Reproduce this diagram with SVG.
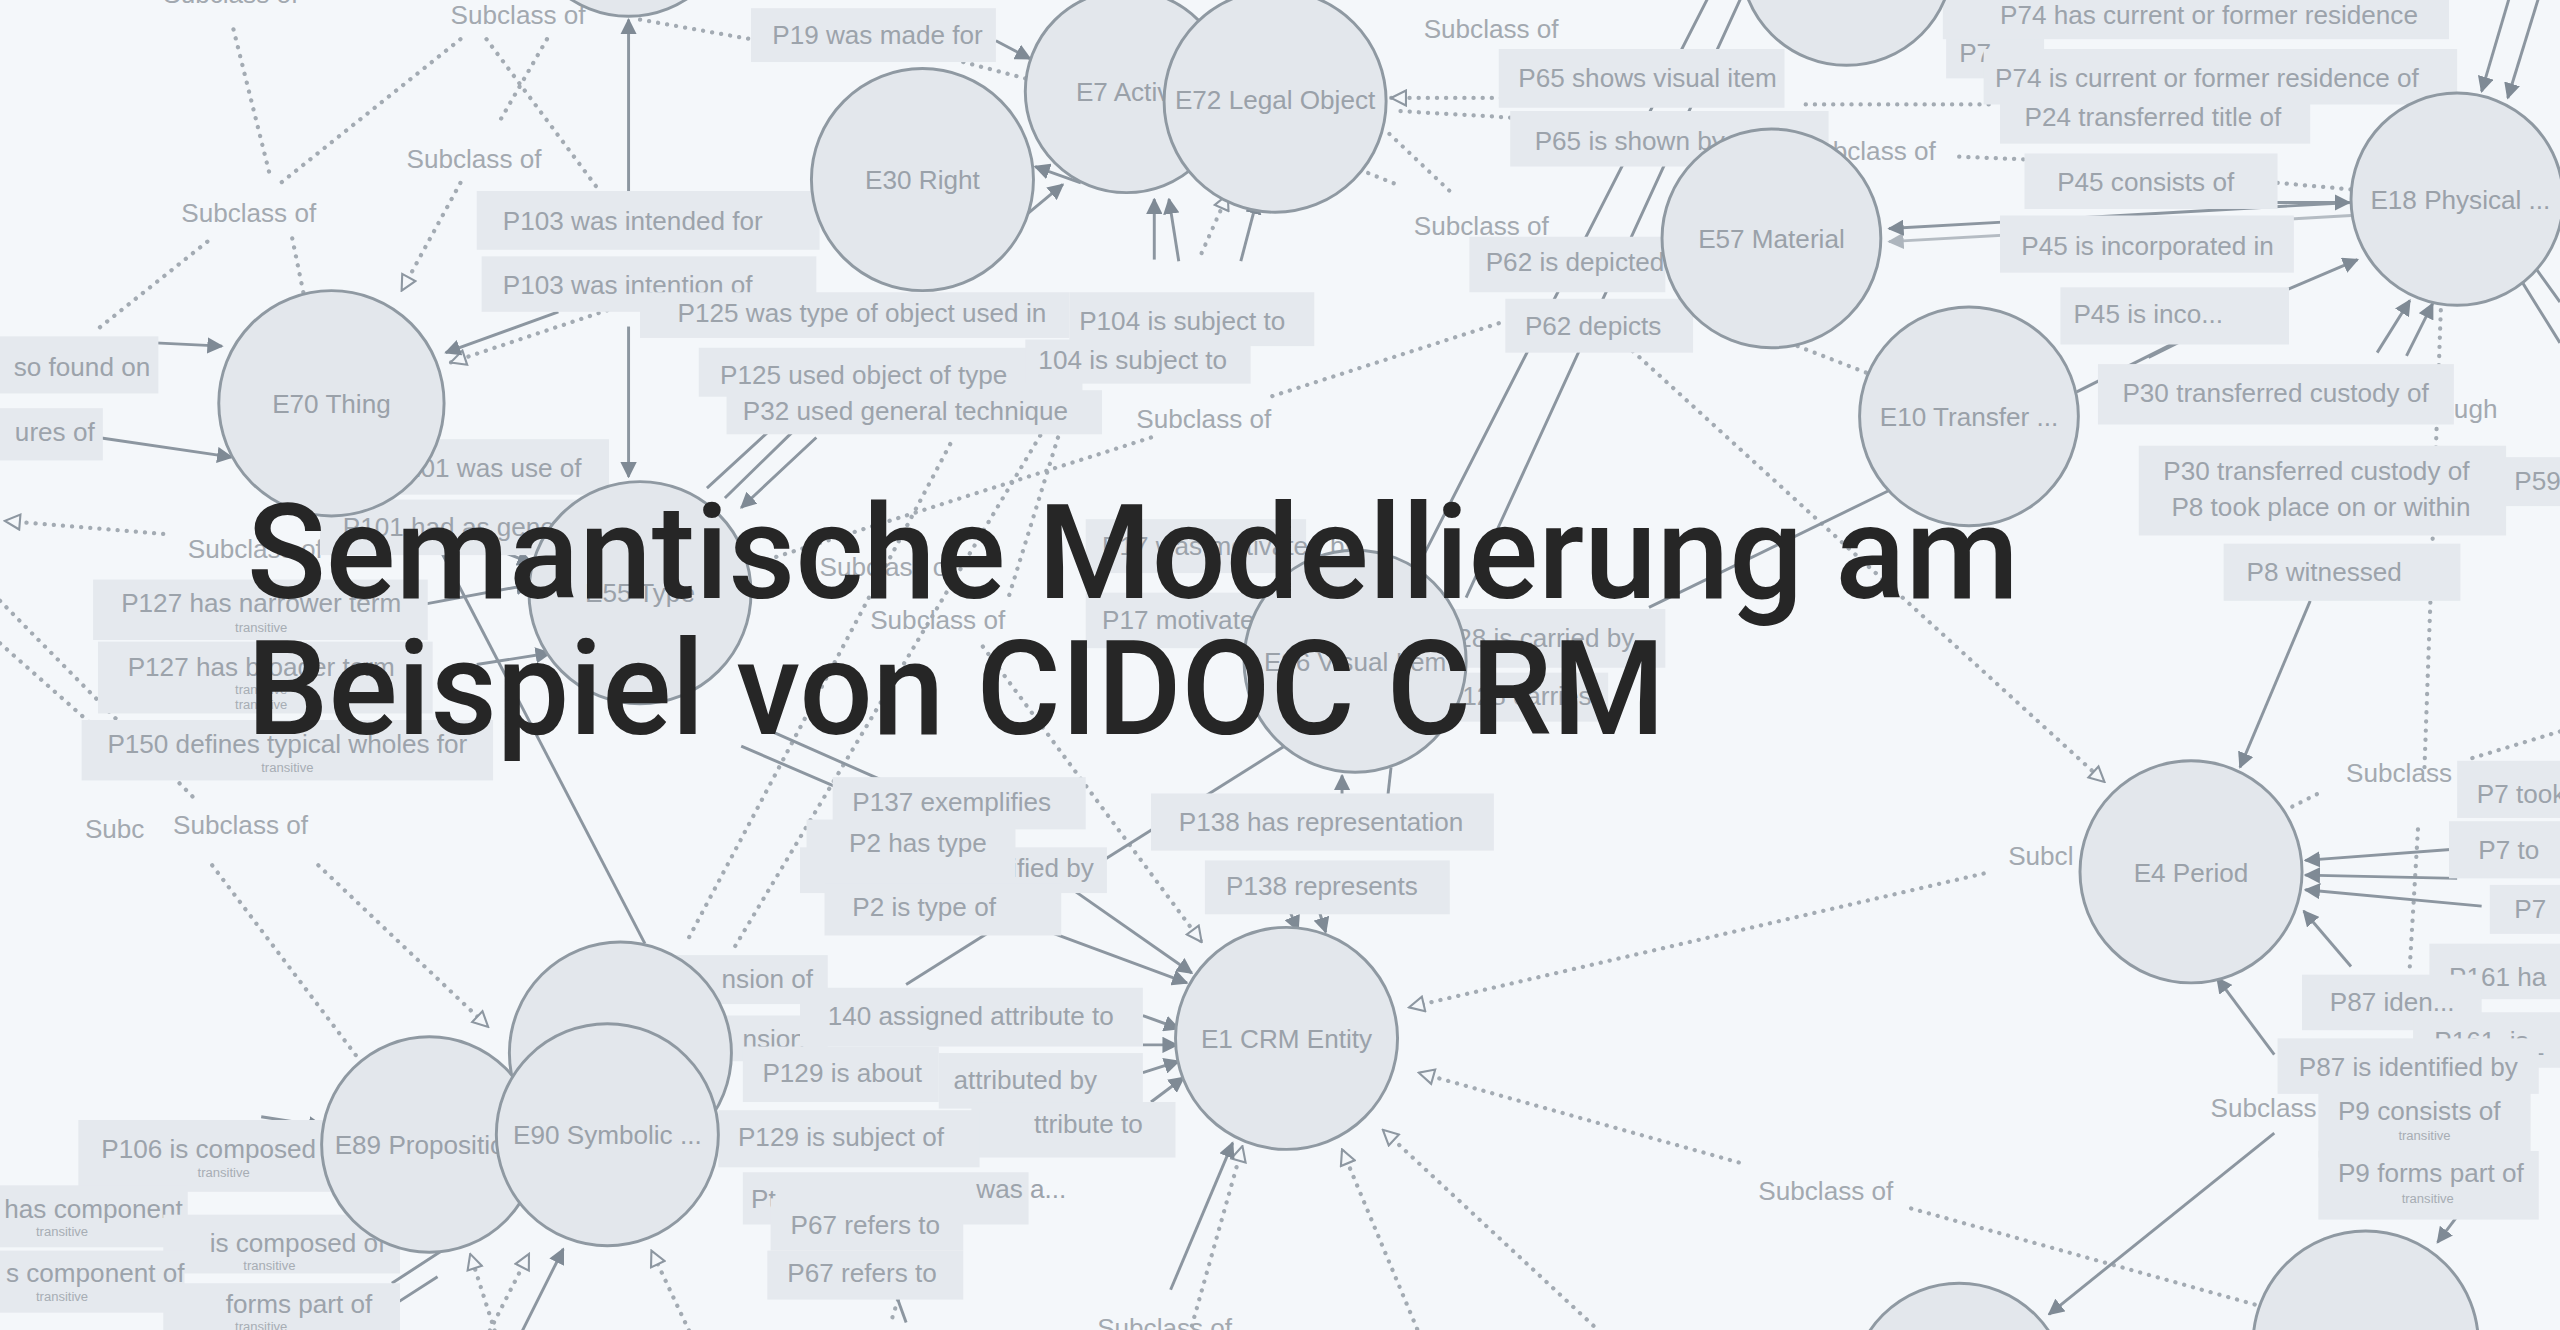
<svg xmlns="http://www.w3.org/2000/svg" width="2560" height="1330" viewBox="0 0 2560 1330">
<defs>
<style>
.lb{fill:#e5e9ee}
.lt{font-family:"Liberation Sans",Arial,sans-serif;font-size:16px;fill:#9ca3ab}
.sc{font-family:"Liberation Sans",Arial,sans-serif;font-size:16px;fill:#a3a9b0}
.tr{font-family:"Liberation Sans",Arial,sans-serif;font-size:8px;fill:#a7adb4;text-anchor:middle}
.nd{fill:#e3e7ec;stroke:#8f99a2;stroke-width:1.8}
.nt{font-family:"Liberation Sans",Arial,sans-serif;font-size:16px;fill:#9aa1a9;text-anchor:middle}
.s{fill:none;stroke:#8c96a0;stroke-width:1.8}
.sa{fill:none;stroke:#8c96a0;stroke-width:1.8;marker-end:url(#af)}
.d{fill:none;stroke:#a3abb3;stroke-width:2.6;stroke-linecap:round;stroke-dasharray:0.1 5.5}
.dh{fill:none;stroke:#a3abb3;stroke-width:2.6;stroke-linecap:round;stroke-dasharray:0.1 5.5;marker-end:url(#ah)}
.title{font-family:Roboto,"DejaVu Sans",sans-serif;font-weight:500;font-size:132px;fill:#262626}
</style>
<marker id="af" viewBox="0 0 10 10" refX="9" refY="5" markerWidth="10" markerHeight="10" markerUnits="userSpaceOnUse" orient="auto"><path d="M0,0 L10,5 L0,10 z" fill="#7f8a95"/></marker>
<marker id="ah" viewBox="0 0 12 12" refX="11" refY="6" markerWidth="11" markerHeight="11" markerUnits="userSpaceOnUse" orient="auto"><path d="M1,1 L11,6 L1,11 z" fill="#f4f7fa" stroke="#8d97a1" stroke-width="1.4" stroke-dasharray="none"/></marker>
</defs>
<rect width="2560" height="1330" fill="#f4f7fa"/>
<g id="graph" transform="scale(1.63265)">
<g id="connectors">
<path class="d" d="M143,18 L166,110 M179,146 L186,180"/>
<path class="d" d="M282,24 L172,112 M127,148 L58,203"/>
<path class="d" d="M298,24 L368,118"/>
<path class="d" d="M335,24 L305,76"/>
<path class="dh" d="M282,112 L246,178"/>
<path class="dh" d="M372,190 L276,222"/>
<path class="d" d="M392,12 L460,24"/>
<path class="d" d="M590,38 L628,48"/>
<path class="dh" d="M925,60 L852,60"/>
<path class="d" d="M925,72 L856,68"/>
<path class="d" d="M851,82 L889,118 M838,106 L858,114"/>
<path class="d" d="M918,198 L775,244 M705,268 L460,346"/>
<path class="dh" d="M1000,215 L1289,479"/>
<path class="d" d="M1101,212 L1145,229"/>
<path class="d" d="M1106,64 L1220,64"/>
<path class="d" d="M1200,96 L1250,98"/>
<path class="d" d="M1395,112 L1440,116"/>
<path class="d" d="M1495,190 L1485,470 M1481,508 L1476,592"/>
<path class="d" d="M1568,448 L1512,465"/>
<path class="d" d="M1404,494 L1420,486"/>
<path class="dh" d="M1215,535 L863,617"/>
<path class="d" d="M1381,799 L1170,740"/>
<path class="dh" d="M1065,712 L869,657"/>
<path class="dh" d="M976,812 L847,692"/>
<path class="dh" d="M868,814 L822,704"/>
<path class="dh" d="M730,812 L761,702"/>
<path class="dh" d="M602,396 L736,577"/>
<path class="d" d="M582,272 L420,578"/>
<path class="d" d="M640,262 L450,580"/>
<path class="d" d="M648,268 L618,365"/>
<path class="dh" d="M100,327 L3,319"/>
<path class="d" d="M0,368 L120,490 M0,394 L95,478"/>
<path class="d" d="M130,530 L220,649"/>
<path class="dh" d="M195,530 L299,629"/>
<path class="dh" d="M303,815 L288,768"/>
<path class="dh" d="M300,815 L324,768"/>
<path class="dh" d="M422,815 L399,766"/>
<path class="dh" d="M736,155 L752,119"/>
<path class="d" d="M555,780 L545,812"/>
<path class="sa" d="M385,118 L385,12"/>
<path class="sa" d="M385,200 L385,292"/>
<path class="sa" d="M95,210 L136,212"/>
<path class="sa" d="M60,268 L142,280"/>
<path class="sa" d="M342,191 L273,216"/>
<path class="sa" d="M470,265 L433,299 M485,265 L444,305 M500,268 L454,311"/>
<path class="sa" d="M260,370 L325,358"/>
<path class="sa" d="M292,407 L337,400"/>
<path class="sa" d="M300,335 L326,345"/>
<path class="s" d="M262,322 L395,578"/>
<path class="s" d="M454,457 L512,482 M468,446 L545,480"/>
<path class="sa" d="M627,565 L727,602"/>
<path class="sa" d="M650,540 L730,596"/>
<path class="s" d="M555,603 L790,455"/>
<path class="sa" d="M700,622 L722,630"/>
<path class="sa" d="M700,640 L721,640"/>
<path class="sa" d="M700,657 L722,650"/>
<path class="sa" d="M705,675 L725,660"/>
<path class="sa" d="M717,790 L755,700"/>
<path class="sa" d="M790,558 L795,570"/>
<path class="sa" d="M808,558 L812,571"/>
<path class="sa" d="M822,490 L822,475"/>
<path class="s" d="M852,470 L850,488"/>
<path class="s" d="M1048,-5 L872,340 M1068,-5 L898,366"/>
<path class="s" d="M1158,300 L1010,372"/>
<path class="sa" d="M1440,124 L1157,140"/>
<path class="sa" d="M1440,132 L1157,148" opacity="0.6"/>
<path class="sa" d="M1415,368 L1372,470"/>
<path class="sa" d="M1505,520 L1412,527"/>
<path class="sa" d="M1505,538 L1412,536"/>
<path class="sa" d="M1520,555 L1412,545"/>
<path class="sa" d="M1440,592 L1411,558"/>
<path class="sa" d="M1393,646 L1358,599"/>
<path class="sa" d="M1393,694 L1255,805"/>
<path class="sa" d="M1508,741 L1493,761"/>
<path class="s" d="M1555,650 L1530,700"/>
<path class="sa" d="M1538,-5 L1520,56"/>
<path class="sa" d="M1556,-5 L1536,60"/>
<path class="sa" d="M1388,124 L1439,124"/>
<path class="s" d="M1272,240 L1376,188"/>
<path class="sa" d="M1376,188 L1444,159"/>
<path class="sa" d="M1456,216 L1476,184"/>
<path class="sa" d="M1474,218 L1490,186"/>
<path class="s" d="M1540,165 L1568,210 M1550,160 L1568,185"/>
<path class="sa" d="M707,159 L707,122"/>
<path class="sa" d="M722,160 L716,122"/>
<path class="sa" d="M760,160 L770,122"/>
<path class="sa" d="M610,25 L631,36"/>
<path class="sa" d="M662,112 L634,102"/>
<path class="sa" d="M628,132 L651,113"/>
<path class="s" d="M1316,219 L1336,209"/>
<path class="s" d="M543,777 L555,810"/>
<path class="sa" d="M160,684 L198,690"/>
<path class="sa" d="M320,815 L345,765"/>
<path class="s" d="M240,786 L280,760 M240,800 L268,782"/>
</g>
<g id="labels">
<text class="sc" x="100" y="2">Subclass of</text>
<text class="sc" x="276" y="15">Subclass of</text>
<text class="sc" x="249" y="103">Subclass of</text>
<text class="sc" x="111" y="136">Subclass of</text>
<text class="sc" x="696" y="262">Subclass of</text>
<text class="sc" x="872" y="23">Subclass of</text>
<text class="sc" x="1103" y="98">Subclass of</text>
<text class="sc" x="866" y="144">Subclass of</text>
<text class="sc" x="115" y="342">Subclass of</text>
<text class="sc" x="502" y="353">Subclass of</text>
<text class="sc" x="533" y="385">Subclass of</text>
<text class="sc" x="52" y="513">Subc</text>
<text class="sc" x="106" y="511">Subclass of</text>
<text class="sc" x="1437" y="479">Subclass</text>
<text class="sc" x="1230" y="530">Subcl</text>
<text class="sc" x="1354" y="684">Subclass</text>
<text class="sc" x="1077" y="735">Subclass of</text>
<text class="sc" x="672" y="819">Subclass of</text>
<g id="l-p19"><rect class="lb" x="460" y="5" width="150" height="33"/><text class="lt" x="473" y="27">P19 was made for</text></g>
<g id="l-p103a"><rect class="lb" x="292" y="117" width="210" height="36"/><text class="lt" x="308" y="141">P103 was intended for</text></g>
<g id="l-p103b"><rect class="lb" x="295" y="157" width="205" height="34"/><text class="lt" x="308" y="180">P103 was intention of</text></g>
<g id="l-p125a"><rect class="lb" x="392" y="179" width="263" height="28"/><text class="lt" x="415" y="197">P125 was type of object used in</text></g>
<g id="l-p125b"><rect class="lb" x="428" y="213" width="235" height="30"/><text class="lt" x="441" y="235">P125 used object of type</text></g>
<g id="l-p32"><rect class="lb" x="445" y="239" width="230" height="27"/><text class="lt" x="455" y="257">P32 used general technique</text></g>
<g id="l-p104a"><rect class="lb" x="655" y="179" width="150" height="33"/><text class="lt" x="661" y="202">P104 is subject to</text></g>
<g id="l-p104b"><rect class="lb" x="628" y="208" width="138" height="27"/><text class="lt" x="636" y="226">104 is subject to</text></g>
<g id="l-p65a"><rect class="lb" x="918" y="30" width="175" height="36"/><text class="lt" x="930" y="53">P65 shows visual item</text></g>
<g id="l-p65b"><rect class="lb" x="925" y="68" width="195" height="34"/><text class="lt" x="940" y="92">P65 is shown by</text></g>
<g id="l-p62a"><rect class="lb" x="900" y="145" width="120" height="34"/><text class="lt" x="910" y="166">P62 is depicted by</text></g>
<g id="l-p62b"><rect class="lb" x="922" y="183" width="115" height="33"/><text class="lt" x="934" y="205">P62 depicts</text></g>
<g id="l-p7x"><rect class="lb" x="1192" y="18" width="60" height="30"/><text class="lt" x="1200" y="38">P7</text></g>
<g id="l-p74a"><rect class="lb" x="1190" y="-8" width="310" height="32"/><text class="lt" x="1225" y="15">P74 has current or former residence</text></g>
<g id="l-p74b"><rect class="lb" x="1215" y="30" width="290" height="34"/><text class="lt" x="1222" y="53">P74 is current or former residence of</text></g>
<g id="l-p24"><rect class="lb" x="1225" y="58" width="190" height="30"/><text class="lt" x="1240" y="77">P24 transferred title of</text></g>
<g id="l-p45a"><rect class="lb" x="1240" y="94" width="155" height="34"/><text class="lt" x="1260" y="117">P45 consists of</text></g>
<g id="l-p45b"><rect class="lb" x="1225" y="132" width="180" height="35"/><text class="lt" x="1238" y="156">P45 is incorporated in</text></g>
<g id="l-p45c"><rect class="lb" x="1262" y="176" width="140" height="35"/><text class="lt" x="1270" y="198">P45 is inco...</text></g>
<text class="sc" x="1503" y="256">ugh</text>
<g id="l-p30a"><rect class="lb" x="1285" y="223" width="218" height="37"/><text class="lt" x="1300" y="246">P30 transferred custody of</text></g>
<g id="l-p59"><rect class="lb" x="1530" y="280" width="40" height="30"/><text class="lt" x="1540" y="300">P59</text></g>
<g id="l-p30b"><rect class="lb" x="1310" y="273" width="225" height="55"/><text class="lt" x="1325" y="294">P30 transferred custody of</text><text class="lt" x="1330" y="316">P8 took place on or within</text></g>
<g id="l-p8"><rect class="lb" x="1362" y="333" width="145" height="35"/><text class="lt" x="1376" y="356">P8 witnessed</text></g>
<g id="l-p7a"><rect class="lb" x="1505" y="466" width="70" height="35"/><text class="lt" x="1517" y="492">P7 took</text></g>
<g id="l-p7b"><rect class="lb" x="1500" y="503" width="70" height="35"/><text class="lt" x="1518" y="526">P7 to</text></g>
<g id="l-p7c"><rect class="lb" x="1525" y="542" width="45" height="30"/><text class="lt" x="1540" y="562">P7</text></g>
<g id="l-p161a"><rect class="lb" x="1488" y="578" width="82" height="34"/><text class="lt" x="1500" y="604">P161 ha</text></g>
<g id="l-p87a"><rect class="lb" x="1410" y="597" width="110" height="34"/><text class="lt" x="1427" y="619">P87 iden...</text></g>
<g id="l-p161b"><rect class="lb" x="1478" y="620" width="92" height="34"/><text class="lt" x="1491" y="643">P161_is_</text></g>
<g id="l-p87b"><rect class="lb" x="1395" y="636" width="160" height="34"/><text class="lt" x="1408" y="659">P87 is identified by</text></g>
<g id="l-p9a"><rect class="lb" x="1420" y="667" width="130" height="42"/><text class="lt" x="1432" y="686">P9 consists of</text><text class="tr" x="1485" y="698">transitive</text></g>
<g id="l-p9b"><rect class="lb" x="1420" y="705" width="135" height="42"/><text class="lt" x="1432" y="724">P9 forms part of</text><text class="tr" x="1487" y="737">transitive</text></g>
<g id="l-found"><rect class="lb" x="-5" y="206" width="102" height="35"/><text class="lt" x="92" y="230" text-anchor="end">so found on</text></g>
<g id="l-ures"><rect class="lb" x="-5" y="250" width="68" height="32"/><text class="lt" x="58" y="270" text-anchor="end">ures of</text></g>
<g id="l-p101a"><rect class="lb" x="245" y="269" width="128" height="34"/><text class="lt" x="238" y="292">P101 was use of</text></g>
<g id="l-p101b"><rect class="lb" x="196" y="306" width="175" height="34"/><text class="lt" x="210" y="328">P101 had as general use</text></g>
<g id="l-p127a"><rect class="lb" x="57" y="355" width="205" height="37"/><text class="lt" x="160" y="375" text-anchor="middle">P127 has narrower term</text><text class="tr" x="160" y="387">transitive</text></g>
<g id="l-p127b"><rect class="lb" x="60" y="393" width="205" height="44"/><text class="lt" x="160" y="414" text-anchor="middle">P127 has broader term</text><text class="tr" x="160" y="425">transitive</text><text class="tr" x="160" y="434">transitive</text></g>
<g id="l-p150"><rect class="lb" x="50" y="441" width="252" height="37"/><text class="lt" x="176" y="461" text-anchor="middle">P150 defines typical wholes for</text><text class="tr" x="176" y="473">transitive</text></g>
<g id="l-p17a"><rect class="lb" x="665" y="318" width="135" height="33"/><text class="lt" x="675" y="340">P17 was motivated by</text></g>
<g id="l-p17b"><rect class="lb" x="665" y="363" width="135" height="34"/><text class="lt" x="675" y="385">P17 motivated</text></g>
<g id="l-p128a"><rect class="lb" x="880" y="373" width="140" height="36"/><text class="lt" x="873" y="396">P128 is carried by</text></g>
<g id="l-p128b"><rect class="lb" x="885" y="412" width="100" height="30"/><text class="lt" x="885" y="432">P128 carries</text></g>
<g id="l-p137a"><rect class="lb" x="510" y="476" width="155" height="32"/><text class="lt" x="522" y="497">P137 exemplifies</text></g>
<g id="l-p137b"><rect class="lb" x="490" y="519" width="188" height="28"/><text class="lt" x="510" y="537">P137 is exemplified by</text></g>
<g id="l-p2a"><rect class="lb" x="494" y="502" width="128" height="40"/><text class="lt" x="520" y="522">P2 has type</text></g>
<g id="l-p2b"><rect class="lb" x="505" y="541" width="145" height="32"/><text class="lt" x="522" y="561">P2 is type of</text></g>
<g id="l-p138a"><rect class="lb" x="705" y="486" width="210" height="35"/><text class="lt" x="722" y="509">P138 has representation</text></g>
<g id="l-p138b"><rect class="lb" x="738" y="527" width="150" height="33"/><text class="lt" x="751" y="548">P138 represents</text></g>
<g id="l-nsa"><rect class="lb" x="395" y="585" width="112" height="30"/><text class="lt" x="498" y="605" text-anchor="end">nsion of</text></g>
<g id="l-nsb"><rect class="lb" x="395" y="622" width="112" height="28"/><text class="lt" x="493" y="642" text-anchor="end">nsion</text></g>
<g id="l-p140a"><rect class="lb" x="490" y="605" width="210" height="36"/><text class="lt" x="507" y="628">140 assigned attribute to</text></g>
<g id="l-p140b"><rect class="lb" x="575" y="645" width="125" height="34"/><text class="lt" x="584" y="667">attributed by</text></g>
<g id="l-p140c"><rect class="lb" x="595" y="675" width="125" height="34"/><text class="lt" x="700" y="694" text-anchor="end">ttribute to</text></g>
<g id="l-p129a"><rect class="lb" x="455" y="641" width="120" height="34"/><text class="lt" x="467" y="663">P129 is about</text></g>
<g id="l-p129b"><rect class="lb" x="440" y="680" width="160" height="35"/><text class="lt" x="452" y="702">P129 is subject of</text></g>
<g id="l-was"><rect class="lb" x="455" y="718" width="175" height="32"/><text class="lt" x="460" y="740">Pt</text><text class="lt" x="598" y="734">was a...</text></g>
<g id="l-p67a"><rect class="lb" x="472" y="734" width="118" height="32"/><text class="lt" x="530" y="756" text-anchor="middle">P67 refers to</text></g>
<g id="l-p67b"><rect class="lb" x="470" y="766" width="120" height="30"/><text class="lt" x="528" y="785" text-anchor="middle">P67 refers to</text></g>
<g id="l-p106"><rect class="lb" x="48" y="686" width="165" height="44"/><text class="lt" x="62" y="709">P106 is composed of</text><text class="tr" x="137" y="721">transitive</text></g>
<g id="l-hc"><rect class="lb" x="-5" y="726" width="120" height="38"/><text class="lt" x="112" y="746" text-anchor="end">has component</text><text class="tr" x="38" y="757">transitive</text></g>
<g id="l-ico"><rect class="lb" x="100" y="744" width="145" height="36"/><text class="lt" x="236" y="767" text-anchor="end">is composed of</text><text class="tr" x="165" y="778">transitive</text></g>
<g id="l-sco"><rect class="lb" x="-5" y="766" width="118" height="38"/><text class="lt" x="113" y="785" text-anchor="end">s component of</text><text class="tr" x="38" y="797">transitive</text></g>
<g id="l-fpo"><rect class="lb" x="100" y="786" width="145" height="35"/><text class="lt" x="228" y="804" text-anchor="end">forms part of</text><text class="tr" x="160" y="815">transitive</text></g>
</g>
<g id="nodes">
<g id="n-top-left"><circle class="nd" cx="385" cy="-55" r="65"/></g>
<g id="n-e30"><circle class="nd" cx="565" cy="110" r="68"/><text class="nt" x="565" y="116">E30 Right</text></g>
<g id="n-e7"><circle class="nd" cx="690" cy="56" r="62"/><text class="nt" x="659" y="62" style="text-anchor:start">E7 Activity</text></g>
<g id="n-e72"><circle class="nd" cx="781" cy="62" r="68"/><text class="nt" x="781" y="67">E72 Legal Object</text></g>
<g id="n-e70"><circle class="nd" cx="203" cy="247" r="69"/><text class="nt" x="203" y="253">E70 Thing</text></g>
<g id="n-top-right"><circle class="nd" cx="1131" cy="-25" r="65"/></g>
<g id="n-e57"><circle class="nd" cx="1085" cy="146" r="67"/><text class="nt" x="1085" y="152">E57 Material</text></g>
<g id="n-e18"><circle class="nd" cx="1505" cy="122" r="65"/><text class="nt" x="1507" y="128">E18 Physical ...</text></g>
<g id="n-e10"><circle class="nd" cx="1206" cy="255" r="67"/><text class="nt" x="1206" y="261">E10 Transfer ...</text></g>
<g id="n-e55"><circle class="nd" cx="392" cy="363" r="68"/><text class="nt" x="392" y="369">E55 Type</text></g>
<g id="n-e36"><circle class="nd" cx="830" cy="405" r="68"/><text class="nt" x="830" y="411">E36 Visual Item</text></g>
<g id="n-e4"><circle class="nd" cx="1342" cy="534" r="68"/><text class="nt" x="1342" y="540">E4 Period</text></g>
<g id="n-e1"><circle class="nd" cx="788" cy="636" r="68"/><text class="nt" x="788" y="642">E1 CRM Entity</text></g>
<g id="n-e73"><circle class="nd" cx="380" cy="645" r="68"/></g>
<g id="n-e89"><circle class="nd" cx="263" cy="701" r="66"/><text class="nt" x="205" y="707" style="text-anchor:start">E89 Propositional Object</text></g>
<g id="n-e90"><circle class="nd" cx="372" cy="695" r="68"/><text class="nt" x="372" y="701">E90 Symbolic ...</text></g>
<g id="n-bottom-right"><circle class="nd" cx="1449" cy="823" r="69"/></g>
<g id="n-bottom"><circle class="nd" cx="1200" cy="852" r="66"/></g>
</g>
</g>
<g id="title">
<text class="title" x="247" y="598" textLength="1772" lengthAdjust="spacingAndGlyphs">Semantische Modellierung am</text>
<text class="title" x="247" y="734" textLength="1418" lengthAdjust="spacingAndGlyphs">Beispiel von CIDOC CRM</text>
</g>
</svg>
